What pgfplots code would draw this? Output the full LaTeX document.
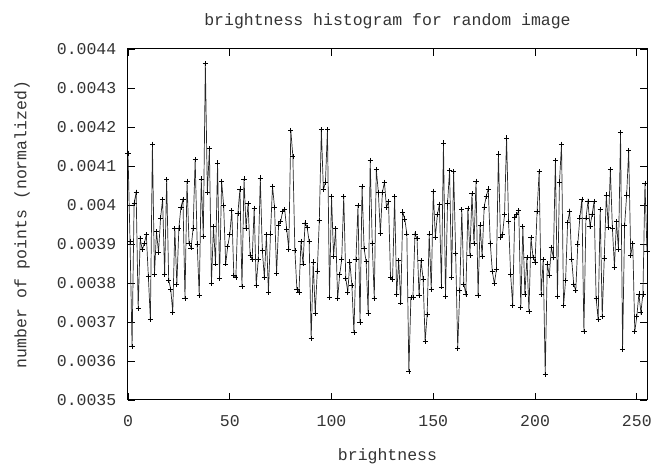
\documentclass[border=0pt]{standalone}
\usepackage{pgfplots}
\usepackage{pgfplotstable}
\pgfplotsset{compat=1.18}
\usepackage{fontspec}
\setmainfont{Liberation Mono}
\pgfplotstableread{
x y
0 0.004133
1 0.003907
2 0.003637
3 0.004005
4 0.004032
5 0.003734
6 0.003914
7 0.003885
8 0.003901
9 0.003924
10 0.003817
11 0.003706
12 0.004156
13 0.003821
14 0.003932
15 0.003878
16 0.003967
17 0.004014
18 0.003821
19 0.004065
20 0.003807
21 0.003784
22 0.003725
23 0.003939
24 0.003796
25 0.003941
26 0.003994
27 0.004014
28 0.003760
29 0.004061
30 0.003901
31 0.003890
32 0.003941
33 0.004116
34 0.003900
35 0.003768
36 0.004067
37 0.003920
38 0.004362
39 0.004033
40 0.004144
41 0.003800
42 0.003945
43 0.003849
44 0.004108
45 0.003811
46 0.004061
47 0.003998
48 0.003849
49 0.003894
50 0.003924
51 0.003985
52 0.003819
53 0.003814
54 0.003979
55 0.004041
56 0.003791
57 0.004067
58 0.003941
59 0.004003
60 0.003872
61 0.003860
62 0.003992
63 0.003794
64 0.003860
65 0.004069
66 0.003883
67 0.003814
68 0.003924
69 0.003776
70 0.003926
71 0.004048
72 0.003994
73 0.003824
74 0.003949
75 0.003958
76 0.003984
77 0.003988
78 0.003937
79 0.003887
80 0.004191
81 0.004125
82 0.003883
83 0.003783
84 0.003777
85 0.003907
86 0.003849
87 0.003954
88 0.003943
89 0.003907
90 0.003657
91 0.003854
92 0.003723
93 0.003831
94 0.003961
95 0.004193
96 0.004039
97 0.004058
98 0.004193
99 0.003763
100 0.004022
101 0.003868
102 0.003939
103 0.003760
104 0.003821
105 0.003860
106 0.004022
107 0.003811
108 0.003777
109 0.003854
110 0.003794
111 0.003674
112 0.003860
113 0.003999
114 0.003700
115 0.004048
116 0.003888
117 0.003855
118 0.003723
119 0.004114
120 0.003902
121 0.003761
122 0.004091
123 0.004033
124 0.003928
125 0.004033
126 0.004058
127 0.003994
128 0.004009
129 0.003814
130 0.003810
131 0.004022
132 0.003772
133 0.003857
134 0.003749
135 0.003982
136 0.003964
137 0.003926
138 0.003573
139 0.003763
140 0.003763
141 0.003926
142 0.003914
143 0.003768
144 0.003857
145 0.003810
146 0.003650
147 0.003720
148 0.003926
149 0.003783
150 0.004035
151 0.003917
152 0.003975
153 0.004001
154 0.003790
155 0.004159
156 0.003766
157 0.004005
158 0.004088
159 0.003814
160 0.004085
161 0.003875
162 0.003633
163 0.003780
164 0.003988
165 0.003797
166 0.003772
167 0.003992
168 0.003871
169 0.004029
170 0.003901
171 0.004061
172 0.003768
173 0.003949
174 0.003868
175 0.003995
176 0.004022
177 0.004041
178 0.003902
179 0.003830
180 0.003798
181 0.003834
182 0.004131
183 0.003917
184 0.003924
185 0.003975
186 0.004172
187 0.003958
188 0.003821
189 0.003743
190 0.003968
191 0.003975
192 0.003985
193 0.003737
194 0.003945
195 0.003772
196 0.003866
197 0.003727
198 0.003917
199 0.003866
200 0.003854
201 0.003984
202 0.004085
203 0.003770
204 0.003860
205 0.003565
206 0.003849
207 0.003819
208 0.003891
209 0.003866
210 0.004114
211 0.003766
212 0.004059
213 0.004156
214 0.003743
215 0.003806
216 0.003955
217 0.003984
218 0.003860
219 0.003797
220 0.003780
221 0.003900
222 0.003967
223 0.004015
224 0.003676
225 0.003967
226 0.004009
227 0.003945
228 0.003975
229 0.004009
230 0.003761
231 0.003706
232 0.003988
233 0.003714
234 0.003864
235 0.004026
236 0.003943
237 0.004091
238 0.003941
239 0.003841
240 0.003958
241 0.003885
242 0.004186
243 0.003631
244 0.003948
245 0.004026
246 0.004140
247 0.003871
248 0.003902
249 0.003676
250 0.003714
251 0.003772
252 0.003725
253 0.003772
254 0.004056
255 0.003881
}\histdata
\begin{document}
\fontsize{16.5bp}{19bp}\selectfont
\begin{tikzpicture}
\begin{axis}[
  scale only axis,
  width=519bp, height=351bp,
  xmin=0, xmax=255, ymin=0.0035, ymax=0.0044,
  xtick={0,50,100,150,200,250},
  xticklabels={0,50,100,150,200,250},
  ytick={0.0035,0.0036,0.0037,0.0038,0.0039,0.004,0.0041,0.0042,0.0043,0.0044},
  yticklabels={0.0035,0.0036,0.0037,0.0038,0.0039,0.004,0.0041,0.0042,0.0043,0.0044},
  scaled y ticks=false,
  /pgf/number format/assume math mode=true,
  tick align=inside,
  major tick length=7bp,
  every tick/.style={black, line width=0.8bp},
  axis line style={line width=1bp, black},
  ticklabel style={font=\fontsize{16.5bp}{19bp}\selectfont, color=black!80},
  xticklabel style={anchor=north, yshift=-10bp},
  yticklabel style={anchor=east, xshift=-6bp},
  title={brightness histogram for random image},
  xlabel={brightness},
  ylabel={number of points (normalized)},
  every axis title/.style={at={(rel axis cs:0.5,1)}, yshift=28bp, anchor=center, font=\fontsize{16.5bp}{19bp}\selectfont, color=black!80},
  every axis x label/.style={at={(rel axis cs:0.5,0)}, yshift=-56bp, anchor=center, font=\fontsize{16.5bp}{19bp}\selectfont, color=black!80},
  every axis y label/.style={at={(rel axis cs:0,0.5)}, xshift=-106bp, rotate=90, anchor=center, font=\fontsize{16.5bp}{19bp}\selectfont, color=black!80},
]
\addplot[black!85, line width=0.7bp, mark=+, mark size=2.6bp, mark options={black, line width=0.7bp}] table[x=x, y=y] {\histdata};
\coordinate (sw) at (rel axis cs:0,0);
\coordinate (ne) at (rel axis cs:1,1);
\end{axis}
\pgfresetboundingbox
\path ([shift={(-128bp,-66bp)}]sw) rectangle ([shift={(6bp,49bp)}]ne);
\end{tikzpicture}
\end{document}
